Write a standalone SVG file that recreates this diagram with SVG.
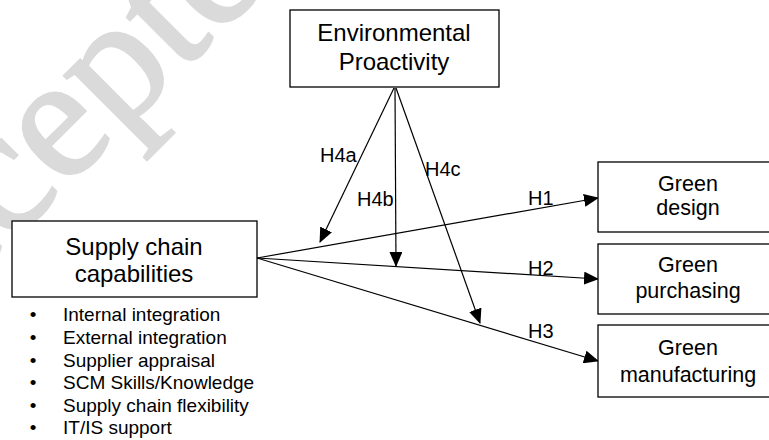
<svg xmlns="http://www.w3.org/2000/svg" width="769" height="440" viewBox="0 0 769 440">
<style>
.box{fill:#fff;stroke:#000;stroke-width:1.3}
.t{font-family:"Liberation Sans",Arial,sans-serif;fill:#000;text-anchor:middle}
.big{font-size:24px}
.mid{font-size:21.5px}
.lab{font-family:"Liberation Sans",Arial,sans-serif;font-size:20px;fill:#000}
.li{font-family:"Liberation Sans",Arial,sans-serif;font-size:19px;fill:#000}
.wm{font-family:"Liberation Serif","Times New Roman",serif;font-size:176px;fill:#dadada;stroke:#dadada;stroke-width:2.5}
.c{stroke:#000;stroke-width:1.2;fill:none;marker-end:url(#ah)}
</style>
<defs>
<marker id="ah" markerUnits="userSpaceOnUse" markerWidth="15" markerHeight="13" refX="14" refY="6.5" orient="auto">
<path d="M0,0 L15,6.5 L0,13 z" fill="#000"/>
</marker>
</defs>
<rect width="769" height="440" fill="#fff"/>
<text class="wm" transform="translate(-137,391) rotate(-45)">Accepted</text>
<g id="connectors">
<line class="c" x1="394" y1="88" x2="320" y2="242"/>
<line class="c" x1="395" y1="88" x2="396" y2="266"/>
<line class="c" x1="396" y1="88" x2="480" y2="323"/>
<line class="c" x1="257" y1="258" x2="598" y2="198"/>
<line class="c" x1="257" y1="258" x2="598" y2="279"/>
<line class="c" x1="257" y1="258" x2="598" y2="361"/>
</g>
<g id="labels">
<text class="lab" x="320" y="162">H4a</text>
<text class="lab" x="357" y="206">H4b</text>
<text class="lab" x="425" y="176">H4c</text>
<text class="lab" x="528" y="205">H1</text>
<text class="lab" x="528" y="275">H2</text>
<text class="lab" x="528" y="338">H3</text>
</g>
<g id="env">
<rect class="box" x="290" y="10" width="209" height="77"/>
<text class="t big" x="394" y="41">Environmental</text>
<text class="t big" x="394" y="70">Proactivity</text>
</g>
<g id="scc">
<rect class="box" x="12" y="221" width="245" height="76"/>
<text class="t big" x="134" y="255">Supply chain</text>
<text class="t big" x="134" y="282">capabilities</text>
</g>
<g id="list">
<text class="li" x="33" y="321" text-anchor="middle">•</text><text class="li" x="63" y="321">Internal integration</text>
<text class="li" x="33" y="344" text-anchor="middle">•</text><text class="li" x="63" y="344">External integration</text>
<text class="li" x="33" y="366.5" text-anchor="middle">•</text><text class="li" x="63" y="366.5">Supplier appraisal</text>
<text class="li" x="33" y="389" text-anchor="middle">•</text><text class="li" x="63" y="389">SCM Skills/Knowledge</text>
<text class="li" x="33" y="411.5" text-anchor="middle">•</text><text class="li" x="63" y="411.5">Supply chain flexibility</text>
<text class="li" x="33" y="433.5" text-anchor="middle">•</text><text class="li" x="63" y="433.5">IT/IS support</text>
</g>
<g id="gd">
<rect class="box" x="598" y="162" width="176" height="70"/>
<text class="t mid" x="688" y="191">Green</text>
<text class="t mid" x="688" y="215">design</text>
</g>
<g id="gp">
<rect class="box" x="598" y="244" width="176" height="70"/>
<text class="t mid" x="688" y="272">Green</text>
<text class="t mid" x="688" y="298">purchasing</text>
</g>
<g id="gm">
<rect class="box" x="598" y="325" width="176" height="72"/>
<text class="t mid" x="688" y="355">Green</text>
<text class="t mid" x="688" y="381.5">manufacturing</text>
</g>
</svg>
